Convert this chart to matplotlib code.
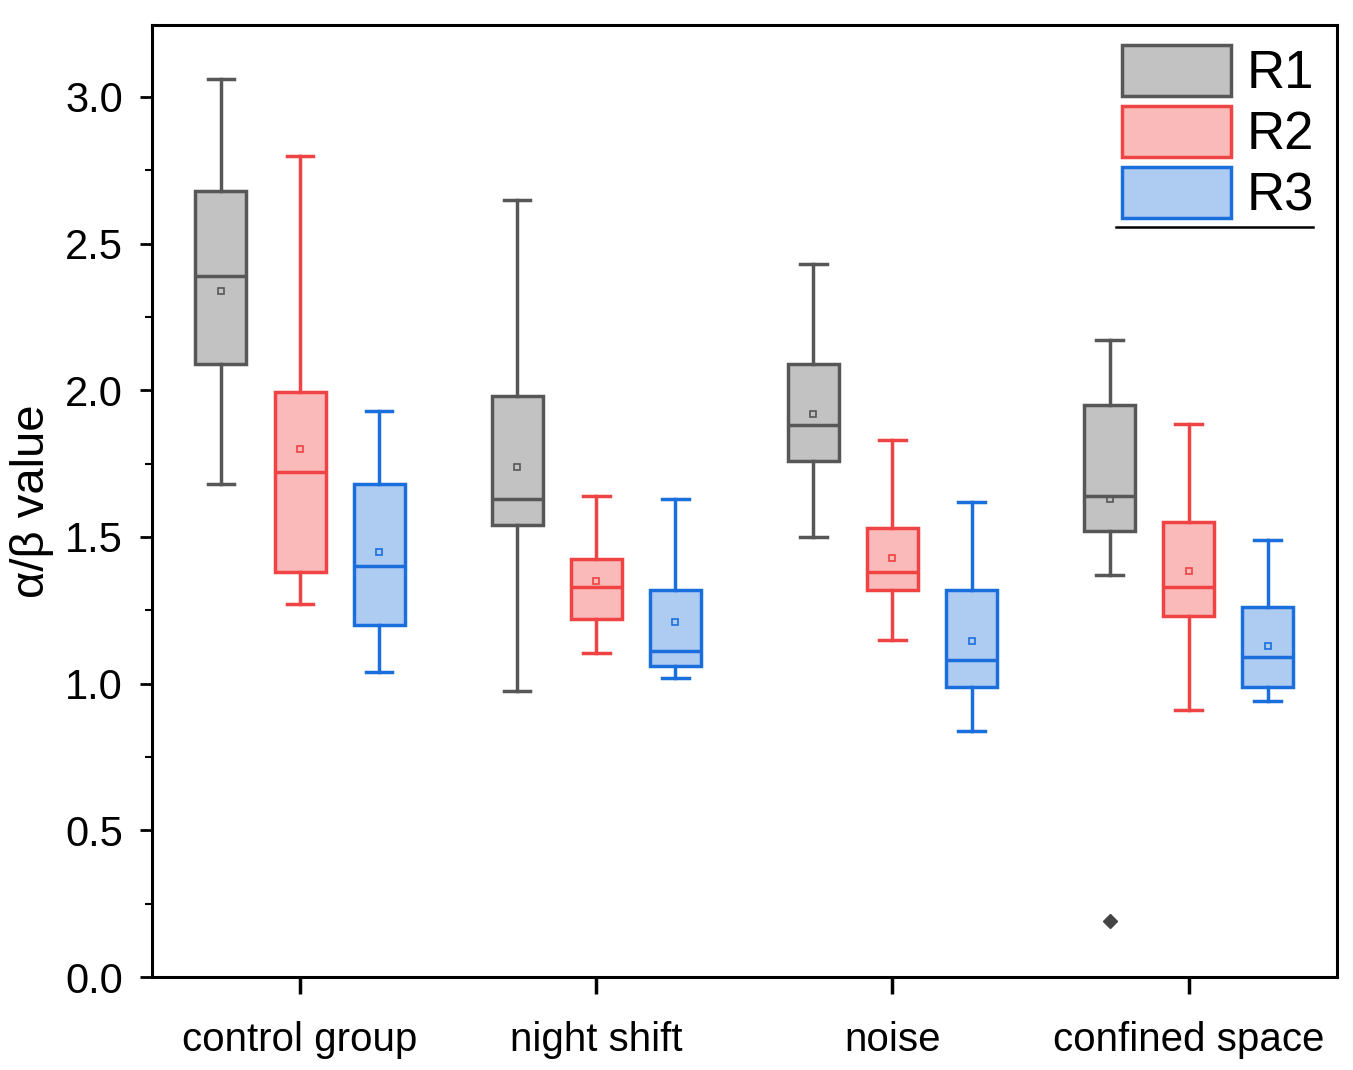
import matplotlib
matplotlib.use("Agg")
import matplotlib.pyplot as plt
from matplotlib.patches import Patch
import numpy as np

plt.rcParams['font.family'] = ['Liberation Sans', 'DejaVu Sans']

groups = ['control group', 'night shift', 'noise', 'confined space']
series = ['R1', 'R2', 'R3']

# per series, per group: whisker low, q1, median, q3, whisker high, mean
whislo = {'R1': [1.68, 0.975, 1.50, 1.37],
          'R2': [1.27, 1.105, 1.15, 0.91],
          'R3': [1.04, 1.02, 0.84, 0.94]}
q1 = {'R1': [2.09, 1.54, 1.76, 1.52],
      'R2': [1.38, 1.22, 1.32, 1.23],
      'R3': [1.20, 1.06, 0.99, 0.99]}
med = {'R1': [2.39, 1.63, 1.88, 1.64],
       'R2': [1.72, 1.33, 1.38, 1.33],
       'R3': [1.40, 1.11, 1.08, 1.09]}
q3 = {'R1': [2.68, 1.98, 2.09, 1.95],
      'R2': [1.995, 1.425, 1.53, 1.55],
      'R3': [1.68, 1.32, 1.32, 1.26]}
whishi = {'R1': [3.06, 2.65, 2.43, 2.17],
          'R2': [2.80, 1.64, 1.83, 1.885],
          'R3': [1.93, 1.63, 1.62, 1.49]}
means = {'R1': [2.34, 1.74, 1.92, 1.63],
         'R2': [1.80, 1.35, 1.43, 1.385],
         'R3': [1.45, 1.21, 1.145, 1.13]}
fliers = {'R1': [[], [], [], [0.19]],
          'R2': [[], [], [], []],
          'R3': [[], [], [], []]}

edge = {'R1': '#575757', 'R2': '#f04343', 'R3': '#1b6fdc'}
fill = {'R1': '#c2c2c2', 'R2': '#fbbaba', 'R3': '#aecbf2'}
offset = {'R1': -0.267, 'R2': 0.0, 'R3': 0.267}

fig = plt.figure(figsize=(13.53, 10.70), dpi=100)
ax = fig.add_axes([0.1123, 0.0869, 0.8757, 0.8897])

base = np.arange(1, len(groups) + 1)
for s in series:
    stats = []
    for i in range(len(groups)):
        stats.append(dict(whislo=whislo[s][i], q1=q1[s][i], med=med[s][i],
                          q3=q3[s][i], whishi=whishi[s][i], mean=means[s][i],
                          fliers=fliers[s][i]))
    c = edge[s]
    ax.bxp(stats, positions=base + offset[s], widths=0.172, capwidths=0.09,
           patch_artist=True, showmeans=True, showfliers=True,
           boxprops=dict(facecolor=fill[s], edgecolor=c, linewidth=2.5),
           whiskerprops=dict(color=c, linewidth=2.5),
           capprops=dict(color=c, linewidth=2.5),
           medianprops=dict(color=c, linewidth=2.5),
           meanprops=dict(marker='s', markersize=5, markerfacecolor='none',
                          markeredgecolor=c, markeredgewidth=1.2),
           flierprops=dict(marker='D', markersize=7, markerfacecolor='#444444',
                           markeredgecolor='#444444'))

ax.set_xlim(0.5, 4.5)
ax.set_ylim(0, 3.245)
ax.set_xticks(base)
ax.set_xticklabels(groups, fontsize=29)
ax.set_yticks(np.arange(0, 3.01, 0.5))
ax.set_yticks(np.arange(0.25, 3.01, 0.5), minor=True)
ax.set_yticklabels(['%.1f' % v for v in np.arange(0, 3.01, 0.5)], fontsize=30)
ax.set_ylabel('α/β value', fontsize=34, labelpad=8)
ax.tick_params(axis='y', which='major', direction='out', length=9, width=2, pad=12)
ax.tick_params(axis='y', which='minor', direction='out', length=5, width=1.5)
ax.tick_params(axis='x', which='major', direction='out', length=12, width=2.5, pad=20)
for sp in ax.spines.values():
    sp.set_linewidth(2.2)

handles = [Patch(facecolor=fill[s], edgecolor=edge[s], linewidth=2.5) for s in series]
ax.legend(handles, series, loc='upper left', bbox_to_anchor=(0.819, 0.979),
          frameon=False, fontsize=38, handlelength=2.06, handleheight=1.1,
          labelspacing=0.13, handletextpad=0.3, borderpad=0, borderaxespad=0)
ax.plot([0.814, 0.98], [0.788, 0.788], transform=ax.transAxes,
        color='black', linewidth=1.8, clip_on=False)

fig.savefig('out.png', dpi=100)
